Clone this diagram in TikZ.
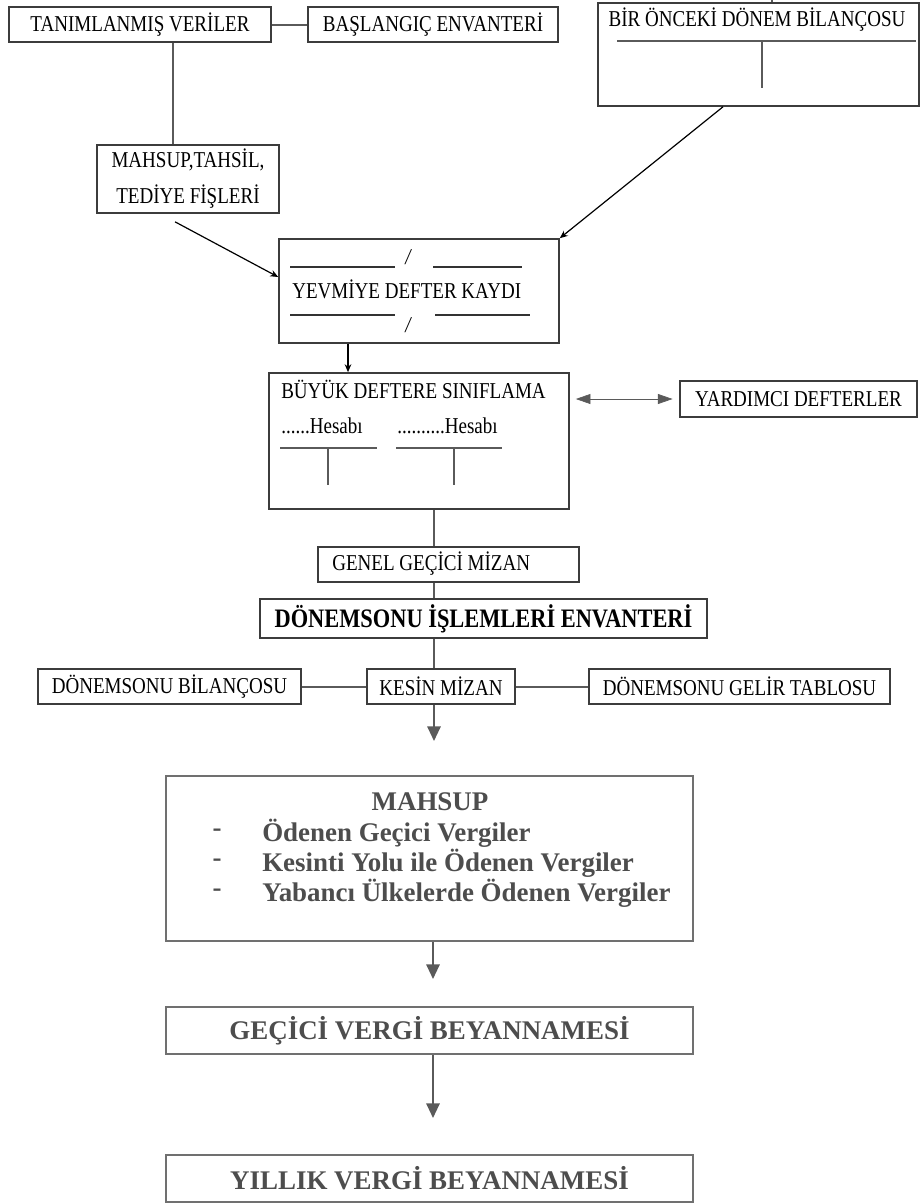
\documentclass[tikz,border=0pt]{standalone}
\usepackage{fontspec}
\setmainfont{Liberation Serif}
\newfontfamily\cond[FakeStretch=0.84]{Liberation Serif}
\usetikzlibrary{arrows.meta,calc}
\definecolor{ln}{HTML}{5A5A5A}
\definecolor{bx}{HTML}{3C3C3C}
\definecolor{gt}{HTML}{4D4D4D}
\definecolor{gb}{HTML}{707070}
\tikzset{
  tbox/.style={draw=bx, line width=1.2pt, inner sep=0pt, align=center,
    font=\cond\fontsize{17}{27}\selectfont, text=black},
  bbox/.style={draw=gb, line width=0.9pt, inner sep=0pt,
    font=\bfseries\fontsize{20.2}{22.5}\selectfont, text=gt},
  ttxt/.style={inner sep=0pt, font=\cond\fontsize{17}{20}\selectfont, text=black},
  btxt/.style={inner sep=0pt, font=\bfseries\fontsize{20.2}{22.5}\selectfont, text=gt},
  conn/.style={draw=ln, line width=1.5pt},
  rule/.style={draw=black!80, line width=1pt},
  thinarr/.style={draw=black, line width=0.9pt, -{Stealth[length=6pt,width=5pt]}},
  dblarr/.style={draw=ln, line width=0.5pt, {Triangle[length=11pt,width=7.5pt]}-{Triangle[length=11pt,width=7.5pt]}},
  bigarr/.style={draw=ln, line width=1.5pt, -{Triangle[length=11pt,width=10pt]}},
}
\begin{document}
\begin{tikzpicture}[x=0.75pt,y=-0.75pt]
\useasboundingbox (0,0) rectangle (920,1203);

% top boxes
\node[tbox, minimum width=196.5pt, minimum height=26.25pt] (tv) at (140,24.5) {TANIMLANMIŞ VERİLER};
\node[tbox, minimum width=187.5pt, minimum height=26.25pt] (be) at (433,24.5) {BAŞLANGIÇ ENVANTERİ};
\node[tbox, minimum width=240.75pt, minimum height=77.25pt] (bo) at (758.5,54.5) {};
\node[ttxt] (bot) at (757,20) {BİR ÖNCEKİ DÖNEM BİLANÇOSU};
\draw[conn] (617,41) -- (916,41);
\draw[conn] (762,41) -- (762,88);

\node[tbox, minimum width=136.5pt, minimum height=51pt] (mt) at (188,179) {MAHSUP,TAHSİL,\\TEDİYE FİŞLERİ};

\node[tbox, minimum width=210pt, minimum height=78pt] (yd) at (419,291) {};
\node[ttxt, anchor=west] (ydt) at (292,289) {YEVMİYE DEFTER KAYDI};
\draw[rule] (290,267) -- (395,267);
\draw[rule] (433,267) -- (522,267);
\draw[rule] (290,315) -- (395,315);
\draw[rule] (435,315) -- (530,315);
\node[ttxt, font=\cond\itshape\fontsize{17}{20}\selectfont] (s1) at (408,257) {/};
\node[ttxt, font=\cond\itshape\fontsize{17}{20}\selectfont] (s2) at (408,325) {/};

\node[tbox, minimum width=225pt, minimum height=102pt] (bd) at (419,441) {};
\node[ttxt, anchor=west] (bdt) at (281,389) {BÜYÜK DEFTERE SINIFLAMA};
\node[ttxt, anchor=west] (h1) at (281,426) {......Hesabı};
\node[ttxt, anchor=west] (h2) at (397,426) {..........Hesabı};
\draw[conn] (280,448) -- (377,448);
\draw[conn] (328,448) -- (328,485);
\draw[conn] (396,448) -- (502,448);
\draw[conn] (454,448) -- (454,485);

\node[tbox, minimum width=177.75pt, minimum height=27pt] (yr) at (798.5,399) {YARDIMCI DEFTERLER};

\node[tbox, minimum width=195.75pt, minimum height=26.25pt] (gg) at (448.5,564.5) {};
\node[ttxt, anchor=west] (ggt) at (332,564) {GENEL GEÇİCİ MİZAN};

\node[tbox, minimum width=335.25pt, minimum height=29.25pt, font=\cond\bfseries\fontsize{20}{24}\selectfont] (de) at (483.5,618.5) {DÖNEMSONU İŞLEMLERİ ENVANTERİ};

\node[tbox, minimum width=197.25pt, minimum height=26.25pt] (db) at (169.5,686.5) {DÖNEMSONU BİLANÇOSU};
\node[tbox, minimum width=111pt, minimum height=26.25pt] (km) at (441,686.5) {KESİN MİZAN};
\node[tbox, minimum width=225.75pt, minimum height=26.25pt] (dg) at (739.5,686.5) {DÖNEMSONU GELİR TABLOSU};

% bottom boxes
\node[bbox, minimum width=395.25pt, minimum height=123.75pt] (mb) at (429.5,858.5) {};
\node[btxt] (mbt) at (430,802) {MAHSUP};
\node[btxt] (d1) at (217,833) {-};
\node[btxt] (d2) at (217,863) {-};
\node[btxt] (d3) at (217,893) {-};
\node[btxt, anchor=west] (i1) at (262,833) {Ödenen Geçici Vergiler};
\node[btxt, anchor=west] (i2) at (262,863) {Kesinti Yolu ile Ödenen Vergiler};
\node[btxt, anchor=west] (i3) at (262,893) {Yabancı Ülkelerde Ödenen Vergiler};

\node[bbox, minimum width=395.25pt, minimum height=35.25pt] (gv) at (429.5,1030.5) {GEÇİCİ VERGİ BEYANNAMESİ};
\node[bbox, minimum width=395.25pt, minimum height=35.25pt] (yv) at (429.5,1178.5) {YILLIK VERGİ BEYANNAMESİ};

% connectors
\draw[conn] (tv.east) -- (be.west);
\draw[conn] (tv.south -| 173,0) -- (mt.north -| 173,0);
\draw[thinarr] ($(mt.south)+(-13,8)$) -- ($(yd.west)+(0,-14)$);
\draw[thinarr] (bo.south -| 723,0) -- (yd.north east);
\draw[conn] (bo.north -| 772,0) -- ++(0,-4);
\draw[thinarr] (yd.south -| 348,0) -- (bd.north -| 348,0);
\draw[dblarr, shorten <=4.5pt, shorten >=5pt] (bd.east |- yr.west) -- (yr.west);
\draw[conn] (bd.south -| 434,0) -- (gg.north -| 434,0);
\draw[conn] (gg.south -| 434,0) -- (de.north -| 434,0);
\draw[conn] (de.south -| 434,0) -- (km.north -| 434,0);
\draw[conn] (db.east) -- (km.west);
\draw[conn] (km.east) -- (dg.west);
\coordinate (k1) at (434,741);
\draw[bigarr] (km.south -| 434,0) -- (k1);
\coordinate (m1) at (433,979);
\draw[bigarr] (mb.south -| 433,0) -- (m1);
\coordinate (g1) at (433,1118);
\draw[bigarr] (gv.south -| 433,0) -- (g1);
\end{tikzpicture}
\end{document}
